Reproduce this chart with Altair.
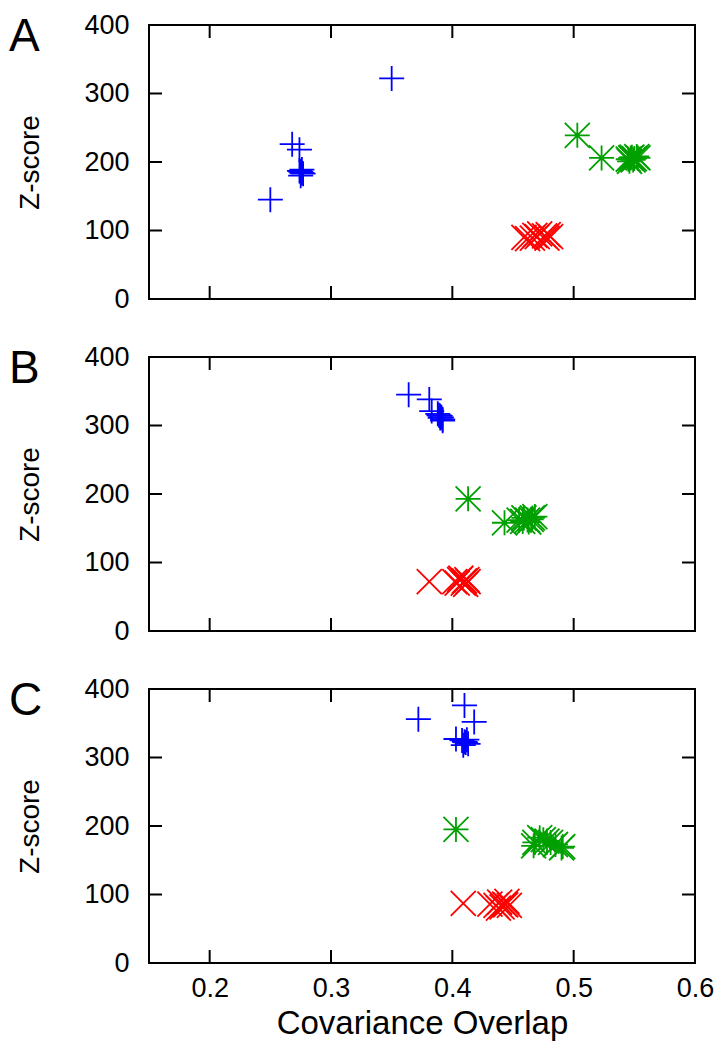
import altair as alt
import pandas as pd

# ---- data ----
blue_A_x = [0.350, 0.268, 0.274, 0.276, 0.275, 0.277, 0.275, 0.276, 0.274, 0.250]
blue_A_y = [322, 226, 218, 189, 186, 183, 180, 184, 187, 145]
green_A_x = [0.503, 0.523, 0.545, 0.547, 0.550, 0.552, 0.546, 0.549, 0.553, 0.548]
green_A_y = [239, 206, 204, 206, 205, 208, 201, 203, 206, 207]
red_A_x = [0.459, 0.462, 0.468, 0.470, 0.472, 0.476, 0.479, 0.481, 0.466, 0.478]
red_A_y = [90, 88, 93, 91, 95, 92, 94, 91, 89, 89]

blue_B_x = [0.364, 0.381, 0.383, 0.388, 0.390, 0.391, 0.392, 0.389, 0.392, 0.390]
blue_B_y = [345, 338, 321, 317, 314, 312, 309, 315, 307, 311]
green_B_x = [0.413, 0.443, 0.455, 0.459, 0.462, 0.465, 0.468, 0.458, 0.463, 0.466]
green_B_y = [193, 158, 162, 165, 162, 163, 167, 160, 159, 165]
red_B_x = [0.381, 0.402, 0.406, 0.409, 0.412, 0.413, 0.407, 0.410, 0.404, 0.411]
red_B_y = [72, 72, 75, 70, 75, 72, 77, 73, 70, 68]

blue_C_x = [0.372, 0.410, 0.418, 0.403, 0.408, 0.410, 0.412, 0.413, 0.409, 0.411]
blue_C_y = [356, 376, 352, 327, 325, 323, 326, 320, 318, 322]
green_C_x = [0.403, 0.468, 0.472, 0.478, 0.481, 0.490, 0.491, 0.467, 0.475, 0.485]
green_C_y = [195, 176, 183, 178, 176, 168, 170, 171, 180, 173]
red_C_x = [0.409, 0.431, 0.436, 0.439, 0.441, 0.443, 0.445, 0.447, 0.438, 0.444]
red_C_y = [87, 86, 84, 89, 82, 86, 90, 84, 80, 85]

panel_letters = ["A", "B", "C"]
series_names = ["plus", "cross", "star"]
series_colors = ["#0000ff", "#ff0000", "#00a000"]
x_tick_values = [0.2, 0.3, 0.4, 0.5]
x_label_values = [0.2, 0.3, 0.4, 0.5, 0.6]
y_tick_values = [100, 200, 300]
y_label_values = [0, 100, 200, 300, 400]

shape_paths = [
    "M-1,0L1,0M0,-1L0,1",
    "M-1,-1L1,1M-1,1L1,-1",
    "M-1,0L1,0M0,-1L0,1M-1,-1L1,1M-1,1L1,-1",
]

panel_data = {
    "A": [(blue_A_x, blue_A_y), (red_A_x, red_A_y), (green_A_x, green_A_y)],
    "B": [(blue_B_x, blue_B_y), (red_B_x, red_B_y), (green_B_x, green_B_y)],
    "C": [(blue_C_x, blue_C_y), (red_C_x, red_C_y), (green_C_x, green_C_y)],
}

W, H = 546, 274
TICK = 13
FONT = "Liberation Sans"

xscale = alt.Scale(domain=[0.15, 0.6], nice=False, zero=False)
yscale = alt.Scale(domain=[0, 400], nice=False, zero=False)


def make_panel(letter, show_x):
    rows = []
    for name, (xs, ys) in zip(series_names, panel_data[letter]):
        for a, b in zip(xs, ys):
            rows.append({"x": a, "y": b, "series": name})
    df = pd.DataFrame(rows)

    if show_x:
        xaxis = alt.Axis(values=x_label_values, ticks=False, tickSize=0, domain=False,
                         grid=False, labelFontSize=27, labelFont=FONT, labelColor="black",
                         labelPadding=12, labelFlush=False, format=".1f",
                         title="Covariance Overlap", titleFontSize=33, titleFont=FONT,
                         titleFontWeight="normal", titleColor="black", titlePadding=6)
    else:
        xaxis = None
    yaxis = alt.Axis(values=y_label_values, ticks=False, tickSize=0, domain=False,
                     grid=False, labelFontSize=27, labelFont=FONT, labelColor="black",
                     labelPadding=20, title="Z-score", titleFontSize=28, titleFont=FONT,
                     titleFontWeight="normal", titleColor="black", titlePadding=39)

    pts = alt.Chart(df).mark_point(filled=False, size=625, strokeWidth=1.8, opacity=1).encode(
        x=alt.X("x:Q", scale=xscale, axis=xaxis),
        y=alt.Y("y:Q", scale=yscale, axis=yaxis),
        shape=alt.Shape("series:N", scale=alt.Scale(domain=series_names, range=shape_paths), legend=None),
        color=alt.Color("series:N", scale=alt.Scale(domain=series_names, range=series_colors), legend=None),
    )

    xt = pd.DataFrame({"x": x_tick_values})
    yt = pd.DataFrame({"y": y_tick_values})
    rule = dict(color="black", strokeWidth=2)
    xb = alt.Chart(xt).mark_rule(**rule).encode(
        x=alt.X("x:Q", scale=xscale, axis=xaxis), y=alt.value(H), y2=alt.value(H - TICK))
    xtop = alt.Chart(xt).mark_rule(**rule).encode(
        x=alt.X("x:Q", scale=xscale, axis=xaxis), y=alt.value(0), y2=alt.value(TICK))
    yl = alt.Chart(yt).mark_rule(**rule).encode(
        y=alt.Y("y:Q", scale=yscale, axis=yaxis), x=alt.value(0), x2=alt.value(TICK))
    yr = alt.Chart(yt).mark_rule(**rule).encode(
        y=alt.Y("y:Q", scale=yscale, axis=yaxis), x=alt.value(W - TICK), x2=alt.value(W))

    lab = alt.Chart(pd.DataFrame({"t": [letter]})).mark_text(
        align="left", baseline="alphabetic", fontSize=46, font=FONT, color="black"
    ).encode(text="t:N", x=alt.value(-140), y=alt.value(26))

    return alt.layer(pts, xb, xtop, yl, yr, lab).properties(width=W, height=H)


chart = alt.vconcat(
    make_panel("A", False), make_panel("B", False), make_panel("C", True),
    spacing=58, bounds="flush"
).properties(padding={"left": 0, "top": 2, "right": 0, "bottom": 0}).configure_view(
    stroke="black", strokeWidth=2)

chart.save("out.html", embed_options={"renderer": "svg", "actions": False})
